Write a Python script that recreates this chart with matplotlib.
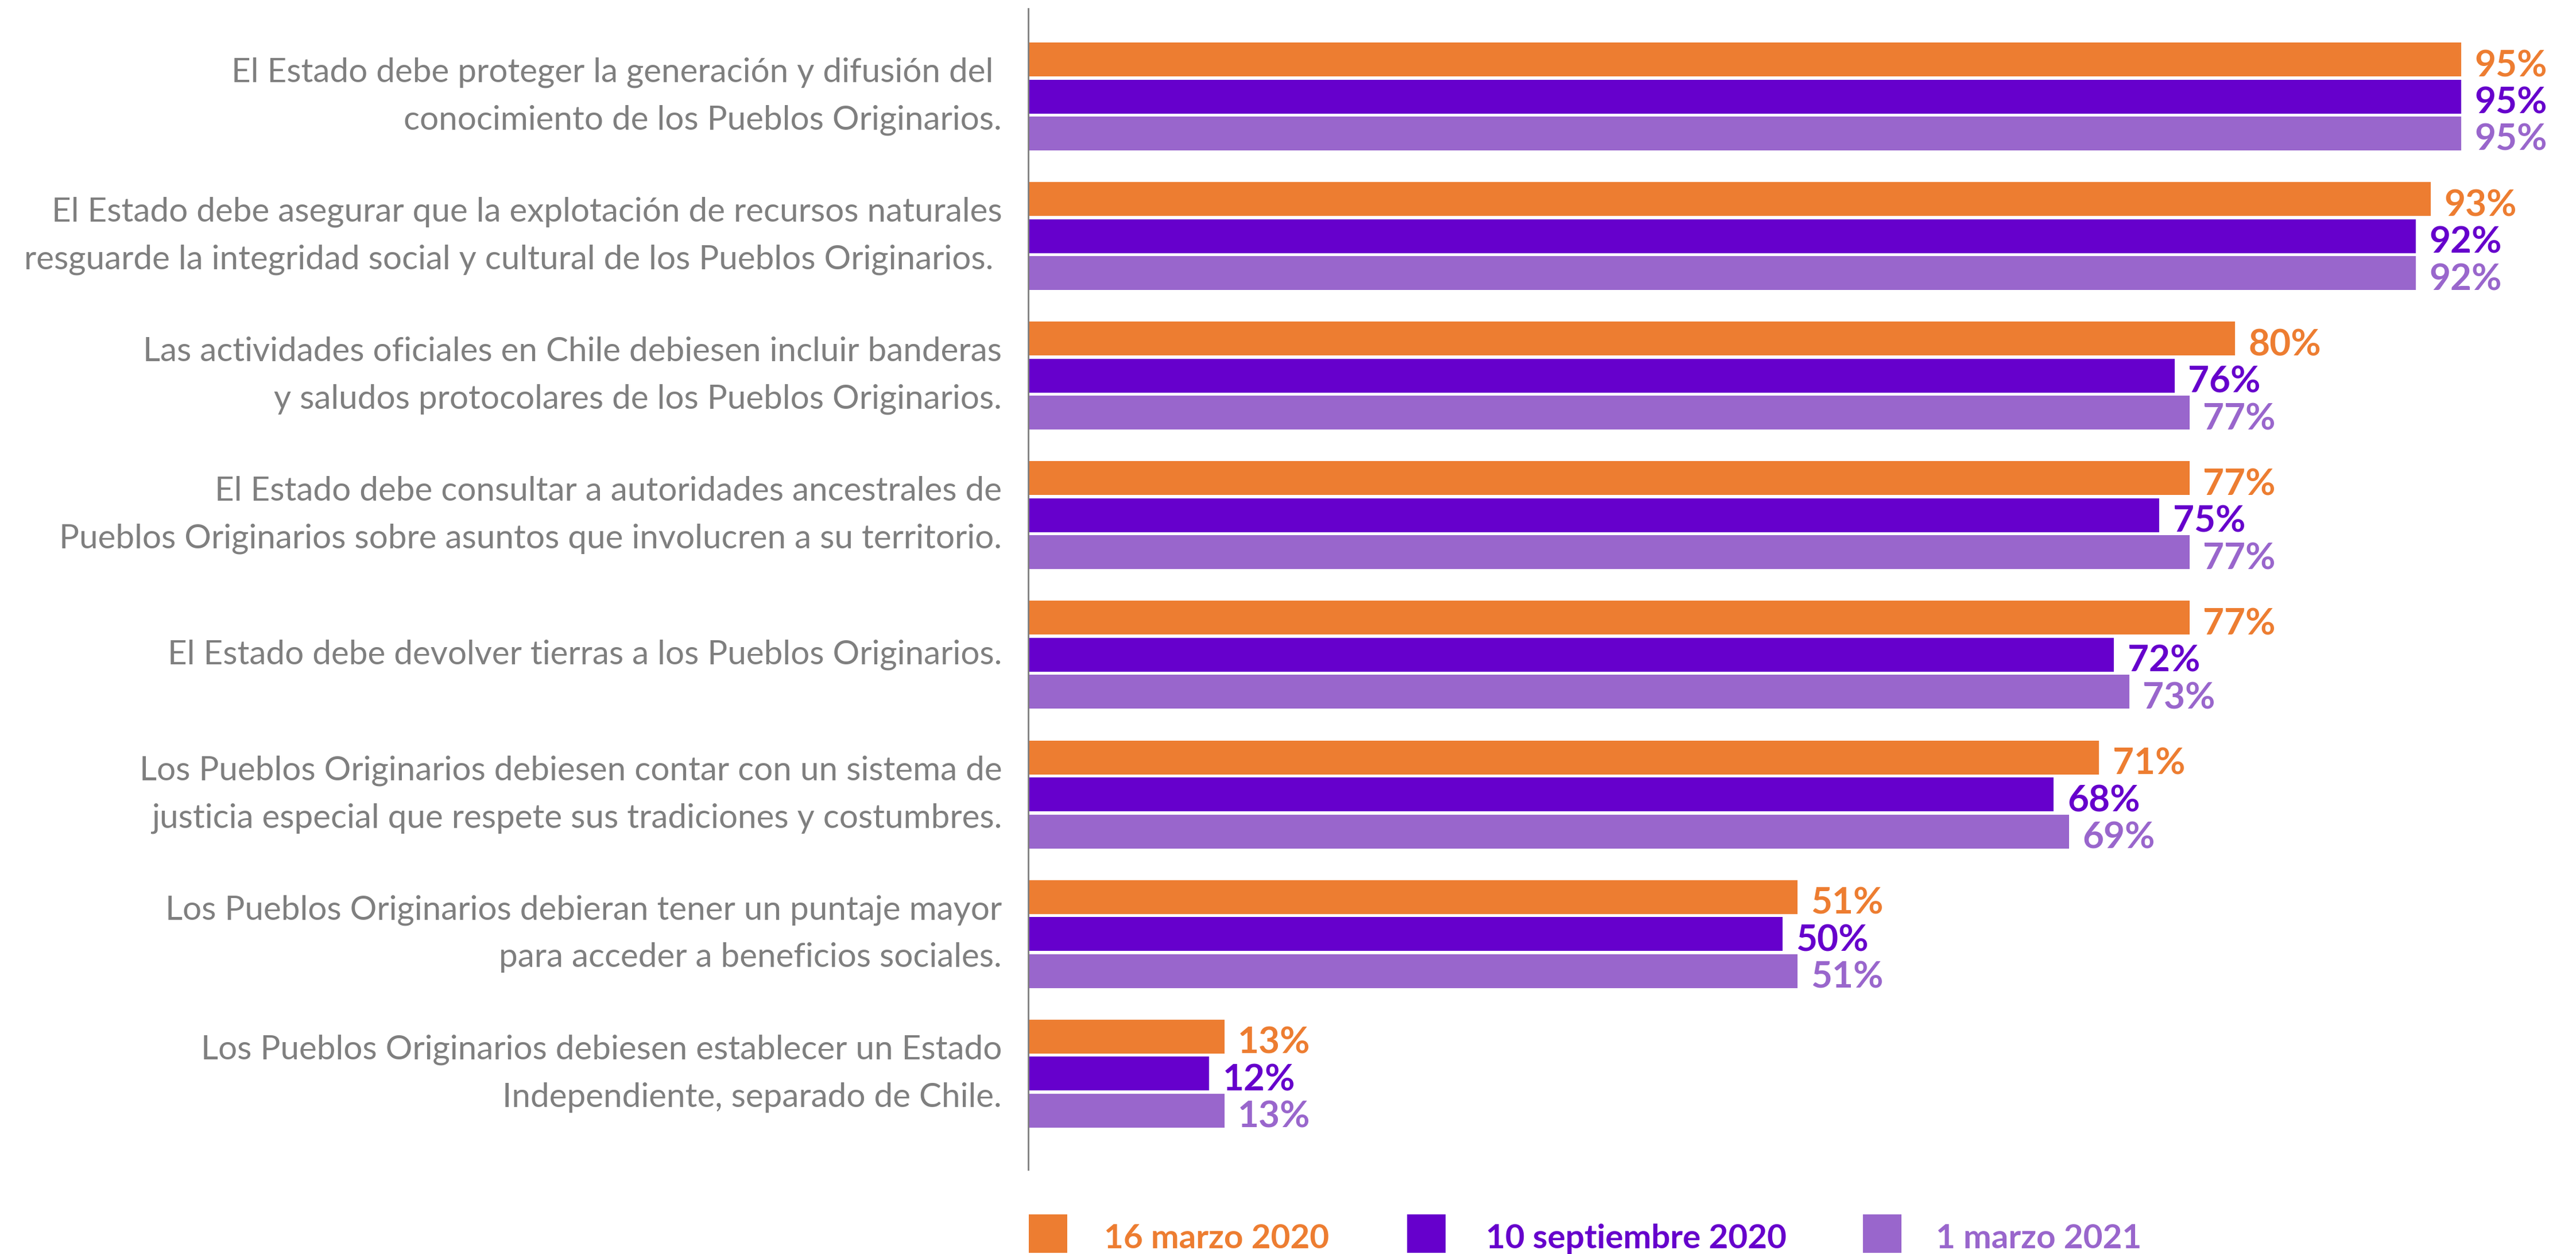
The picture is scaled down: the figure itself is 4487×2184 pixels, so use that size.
import matplotlib
matplotlib.use("Agg")
import matplotlib.pyplot as plt
from matplotlib.patches import Rectangle

categories = [
    "El Estado debe proteger la generación y difusión del \nconocimiento de los Pueblos Originarios.",
    "El Estado debe asegurar que la explotación de recursos naturales\nresguarde la integridad social y cultural de los Pueblos Originarios. ",
    "Las actividades oficiales en Chile debiesen incluir banderas\ny saludos protocolares de los Pueblos Originarios.",
    "El Estado debe consultar a autoridades ancestrales de\nPueblos Originarios sobre asuntos que involucren a su territorio.",
    "El Estado debe devolver tierras a los Pueblos Originarios.",
    "Los Pueblos Originarios debiesen contar con un sistema de\njusticia especial que respete sus tradiciones y costumbres.",
    "Los Pueblos Originarios debieran tener un puntaje mayor\npara acceder a beneficios sociales.",
    "Los Pueblos Originarios debiesen establecer un Estado\nIndependiente, separado de Chile.",
]
series_names = ["16 marzo 2020", "10 septiembre 2020", "1 marzo 2021"]
s_mar2020 = [95, 93, 80, 77, 77, 71, 51, 13]
s_sep2020 = [95, 92, 76, 75, 72, 68, 50, 12]
s_mar2021 = [95, 92, 77, 77, 73, 69, 51, 13]
series = [s_mar2020, s_sep2020, s_mar2021]
colors = ["#ED7D31", "#6600CC", "#9966CC"]
grey = "#7F7F7F"

plt.rcParams['font.family'] = ['Lato', 'DejaVu Sans']

W, H = 4487, 2184
fig = plt.figure(figsize=(W / 100, H / 100), dpi=100)
ax_left, ax_right = 1791 / W, 4418 / W
ax_top, ax_bot = 1 - 15 / H, 1 - 2037 / H
ax = fig.add_axes([ax_left, ax_bot, ax_right - ax_left, ax_top - ax_bot])

pitch = 243.1
bar_step = 64.5 / pitch
bar_h = 59 / pitch
n = len(categories)
for j, (vals, c) in enumerate(zip(series, colors)):
    ys = [i + (j - 1) * bar_step for i in range(n)]
    ax.barh(ys, vals, height=bar_h, color=c, edgecolor='none')
    for y, v in zip(ys, vals):
        ax.annotate(f"{v}%", xy=(v, y + bar_h / 2), xytext=(17, 0),
                    textcoords='offset points', va='baseline', ha='left',
                    fontsize=46, fontweight='bold', color=c)

center_px = 168 + 3.5 * pitch
ax.set_ylim(3.5 + (2037 - center_px) / pitch, 3.5 - (center_px - 15) / pitch)
ax.set_xlim(0, 100)
ax.set_yticks([])
ax.set_xticks([])

# category labels
for i, lab in enumerate(categories):
    ax.annotate(lab, xy=(0, i), xycoords=('axes fraction', 'data'),
                xytext=(-33, 0), textcoords='offset points',
                ha='right', va='center', fontsize=42, color=grey,
                linespacing=1.68, annotation_clip=False)

for s in ['top', 'right', 'bottom']:
    ax.spines[s].set_visible(False)
ax.spines['left'].set_color(grey)
ax.spines['left'].set_linewidth(2)

# legend
sq_x = [1792, 2451, 3245]
tx_x = [1923, 2588, 3372]
for name, c, sx, tx in zip(series_names, colors, sq_x, tx_x):
    fig.add_artist(Rectangle((sx / W, 1 - 2182 / H), 67 / W, 67 / H,
                             transform=fig.transFigure, color=c, lw=0))
    fig.text(tx / W, 1 - 2174 / H, name, fontsize=42, fontweight='bold', color=c,
             va='baseline', ha='left')

fig.savefig("out.png", dpi=100)
